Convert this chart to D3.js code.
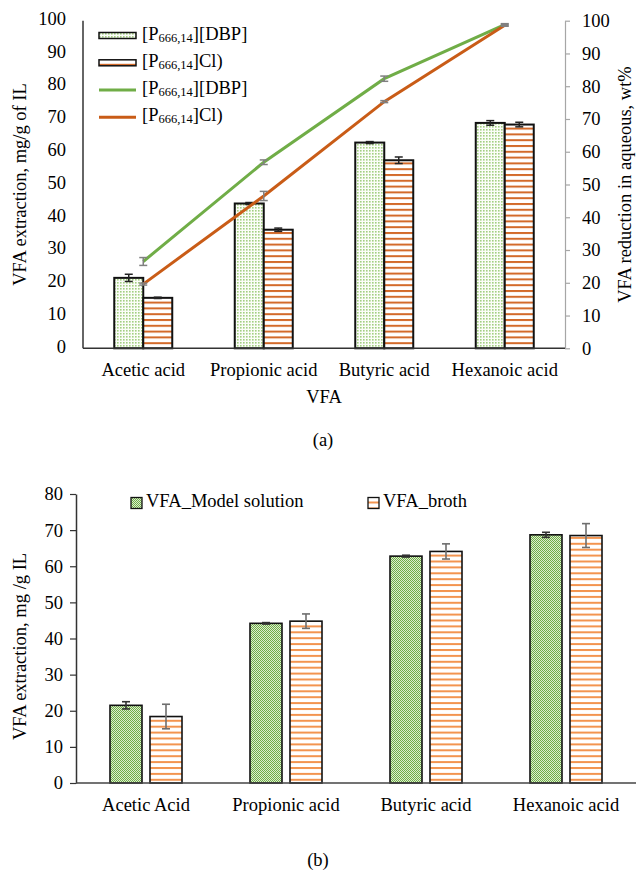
<!DOCTYPE html>
<html>
<head>
<meta charset="utf-8">
<script src="https://cdn.jsdelivr.net/npm/d3@7"></script>
<style>
  html, body { margin: 0; padding: 0; background: #fff; }
  svg { display: block; }
  text { font-family: "Liberation Serif", "Times New Roman", serif; fill: #000; }
</style>
</head>
<body>
<svg id="chart" width="638" height="876"></svg>
<script>
// ---- Panel (a): extraction (bars, left axis) and reduction (lines, right axis)
const categoriesA = ["Acetic acid", "Propionic acid", "Butyric acid", "Hexanoic acid"];
const extractionDBP = [21.5, 44.2, 62.8, 68.8];
const extractionDBPErr = [1.1, 0.3, 0.3, 0.7];
const extractionCl = [15.4, 36.2, 57.4, 68.3];
const extractionClErr = [0.2, 0.5, 1.0, 0.7];
const reductionDBP = [26.5, 56.8, 82.3, 98.8];
const reductionDBPErr = [1.2, 0.7, 0.8, 0.3];
const reductionCl = [19.6, 46.5, 75.3, 98.6];
const reductionClErr = [0.3, 1.4, 0.3, 0.3];
const ticksA = [0, 10, 20, 30, 40, 50, 60, 70, 80, 90, 100];

// ---- Panel (b): model solution vs. broth
const categoriesB = ["Acetic Acid", "Propionic acid", "Butyric acid", "Hexanoic acid"];
const modelSolution = [21.5, 44.2, 62.8, 68.7];
const modelSolutionErr = [1.0, 0.2, 0.25, 0.7];
const broth = [18.4, 44.8, 64.1, 68.5];
const brothErr = [3.4, 2.0, 2.1, 3.3];
const ticksB = [0, 10, 20, 30, 40, 50, 60, 70, 80];

const svg = d3.select("#chart");
const defs = svg.append("defs");

// fill patterns
function pattern(id, w, h, draw) {
  const p = defs.append("pattern").attr("id", id)
    .attr("patternUnits", "userSpaceOnUse").attr("width", w).attr("height", h);
  draw(p);
}
pattern("dotsGreen", 3, 3, p => {
  p.append("rect").attr("width", 3).attr("height", 3).attr("fill", "#fbfdf8");
  p.append("rect").attr("width", 1.6).attr("height", 1.6).attr("fill", "#a3cf82");
});
pattern("checkGreen", 2, 2, p => {
  p.append("rect").attr("width", 2).attr("height", 2).attr("fill", "#dcedd0");
  p.append("rect").attr("width", 1).attr("height", 1).attr("fill", "#70ad47");
  p.append("rect").attr("x", 1).attr("y", 1).attr("width", 1).attr("height", 1).attr("fill", "#70ad47");
});
pattern("stripesDark", 6, 5.8, p => {
  p.append("rect").attr("width", 6).attr("height", 5.8).attr("fill", "#ffffff");
  p.append("rect").attr("y", 0).attr("width", 6).attr("height", 2).attr("fill", "#d36a2a");
});
pattern("stripesLight", 6, 5.9, p => {
  p.append("rect").attr("width", 6).attr("height", 5.9).attr("fill", "#ffffff");
  p.append("rect").attr("y", 0).attr("width", 6).attr("height", 2).attr("fill", "#f3944f");
});

const FS = 18.5;

// text with the P666,14 subscript
function ilLabel(g, x, y, tail) {
  const t = g.append("text").attr("x", x).attr("y", y)
    .attr("font-size", FS).attr("dominant-baseline", "middle");
  t.append("tspan").text("[P");
  t.append("tspan").attr("font-size", 12.5).attr("dy", 3).attr("fill", "#000").text("666,14");
  t.append("tspan").attr("dy", -3).text(tail);
  return t;
}

function errorBar(g, x, v, e, y, cap, color, width) {
  g.append("line").attr("x1", x).attr("x2", x).attr("y1", y(v - e)).attr("y2", y(v + e))
    .attr("stroke", color).attr("stroke-width", width);
  [v - e, v + e].forEach(val => {
    g.append("line").attr("x1", x - cap / 2).attr("x2", x + cap / 2)
      .attr("y1", y(val)).attr("y2", y(val)).attr("stroke", color).attr("stroke-width", width);
  });
}

// ================= Panel (a) =================
(function panelA() {
  const left = 83, right = 565, top = 20.7, bottom = 348.3;
  const g = svg.append("g");
  const x = d3.scaleBand().domain(categoriesA).range([left, right]);
  const y = d3.scaleLinear().domain([0, 100]).range([bottom, top]);
  const y2 = d3.scaleLinear().domain([0, 100]).range([bottom, top]);
  const bw = 29;
  const cx = c => x(c) + x.bandwidth() / 2;

  // bars
  categoriesA.forEach((c, i) => {
    g.append("rect").attr("x", cx(c) - bw).attr("y", y(extractionDBP[i]))
      .attr("width", bw).attr("height", y(0) - y(extractionDBP[i]))
      .attr("fill", "url(#dotsGreen)").attr("stroke", "#111").attr("stroke-width", 2);
    g.append("rect").attr("x", cx(c)).attr("y", y(extractionCl[i]))
      .attr("width", bw).attr("height", y(0) - y(extractionCl[i]))
      .attr("fill", "url(#stripesDark)").attr("stroke", "#111").attr("stroke-width", 2);
  });
  categoriesA.forEach((c, i) => {
    errorBar(g, cx(c) - bw / 2, extractionDBP[i], extractionDBPErr[i], y, 8, "#222", 1.5);
    errorBar(g, cx(c) + bw / 2, extractionCl[i], extractionClErr[i], y, 8, "#222", 1.5);
  });

  // lines on the secondary axis
  const line = d3.line().x((d, i) => cx(categoriesA[i])).y(d => y2(d));
  g.append("path").datum(reductionDBP).attr("d", line).attr("fill", "none")
    .attr("stroke", "#70ad47").attr("stroke-width", 3);
  g.append("path").datum(reductionCl).attr("d", line).attr("fill", "none")
    .attr("stroke", "#c95c17").attr("stroke-width", 3);
  categoriesA.forEach((c, i) => {
    errorBar(g, cx(c), reductionDBP[i], reductionDBPErr[i], y2, 8, "#808080", 1.5);
    errorBar(g, cx(c), reductionCl[i], reductionClErr[i], y2, 8, "#808080", 1.5);
  });

  // left axis (no tick marks)
  g.append("line").attr("x1", left).attr("x2", left).attr("y1", top).attr("y2", bottom)
    .attr("stroke", "#333").attr("stroke-width", 1.5);
  g.selectAll(".tl").data(ticksA).enter().append("text")
    .attr("x", 66).attr("y", d => y(d)).attr("text-anchor", "end")
    .attr("dominant-baseline", "middle").attr("font-size", FS).text(d => d);

  // right axis (gray, outward ticks)
  const ra = g.append("g").attr("transform", `translate(${right},0)`)
    .call(d3.axisRight(y2).tickValues(ticksA).tickSize(5).tickSizeOuter(0));
  ra.select(".domain").attr("stroke", "#a6a6a6").attr("stroke-width", 1.2);
  ra.selectAll(".tick line").attr("stroke", "#a6a6a6").attr("stroke-width", 1.2);
  ra.selectAll(".tick text").attr("x", 17).attr("font-size", FS)
    .attr("font-family", "Liberation Serif").attr("fill", "#000");

  // baseline
  g.append("line").attr("x1", left).attr("x2", right).attr("y1", bottom).attr("y2", bottom)
    .attr("stroke", "#333").attr("stroke-width", 1.5);

  // category labels
  categoriesA.forEach(c => {
    g.append("text").attr("x", cx(c)).attr("y", 372).attr("text-anchor", "middle")
      .attr("dominant-baseline", "middle").attr("font-size", FS).text(c);
  });
  g.append("text").attr("x", 324).attr("y", 399).attr("text-anchor", "middle")
    .attr("dominant-baseline", "middle").attr("font-size", FS).text("VFA");
  g.append("text").attr("x", 323).attr("y", 442).attr("text-anchor", "middle")
    .attr("dominant-baseline", "middle").attr("font-size", FS).text("(a)");

  // axis titles
  g.append("text").attr("transform", `translate(22,${(top + bottom) / 2}) rotate(-90)`)
    .attr("text-anchor", "middle").attr("dominant-baseline", "middle")
    .attr("font-size", FS).text("VFA extraction, mg/g of IL");
  g.append("text").attr("transform", `translate(627,${(top + bottom) / 2}) rotate(-90)`)
    .attr("text-anchor", "middle").attr("dominant-baseline", "middle")
    .attr("font-size", FS).text("VFA reduction in aqueous, wt%");

  // legend
  const lx = 99, lw = 37, rows = [35.5, 62.8, 90, 117.3];
  g.append("rect").attr("x", lx).attr("y", rows[0] - 3).attr("width", lw).attr("height", 6)
    .attr("fill", "url(#dotsGreen)").attr("stroke", "#111").attr("stroke-width", 1.5);
  g.append("rect").attr("x", lx).attr("y", rows[1] - 3).attr("width", lw).attr("height", 6)
    .attr("fill", "url(#stripesDark)").attr("stroke", "#111").attr("stroke-width", 1.5);
  g.append("line").attr("x1", lx).attr("x2", lx + lw).attr("y1", rows[2]).attr("y2", rows[2])
    .attr("stroke", "#70ad47").attr("stroke-width", 3);
  g.append("line").attr("x1", lx).attr("x2", lx + lw).attr("y1", rows[3]).attr("y2", rows[3])
    .attr("stroke", "#c95c17").attr("stroke-width", 3);
  ilLabel(g, 142, rows[0], "][DBP]");
  ilLabel(g, 142, rows[1], "]Cl)");
  ilLabel(g, 142, rows[2], "][DBP]");
  ilLabel(g, 142, rows[3], "]Cl)");
})();

// ================= Panel (b) =================
(function panelB() {
  const left = 76, right = 636, top = 494, bottom = 783;
  const g = svg.append("g");
  const x = d3.scaleBand().domain(categoriesB).range([left, right]);
  const y = d3.scaleLinear().domain([0, 80]).range([bottom, top]);
  const bw = 32, off = 20;
  const cx = c => x(c) + x.bandwidth() / 2;

  categoriesB.forEach((c, i) => {
    g.append("rect").attr("x", cx(c) - off - bw / 2).attr("y", y(modelSolution[i]))
      .attr("width", bw).attr("height", y(0) - y(modelSolution[i]))
      .attr("fill", "url(#checkGreen)").attr("stroke", "#111").attr("stroke-width", 1.6);
    g.append("rect").attr("x", cx(c) + off - bw / 2).attr("y", y(broth[i]))
      .attr("width", bw).attr("height", y(0) - y(broth[i]))
      .attr("fill", "url(#stripesLight)").attr("stroke", "#111").attr("stroke-width", 1.6);
  });
  categoriesB.forEach((c, i) => {
    errorBar(g, cx(c) - off, modelSolution[i], modelSolutionErr[i], y, 8, "#333", 1.6);
    errorBar(g, cx(c) + off, broth[i], brothErr[i], y, 8, "#6e6e6e", 1.6);
  });

  // y axis with outward ticks
  const ya = g.append("g").attr("transform", `translate(${left},0)`)
    .call(d3.axisLeft(y).tickValues(ticksB).tickSize(6).tickSizeOuter(0));
  ya.select(".domain").attr("stroke", "#333").attr("stroke-width", 1.5);
  ya.selectAll(".tick line").attr("stroke", "#333").attr("stroke-width", 1.2);
  ya.selectAll(".tick text").attr("x", -13).attr("font-size", FS)
    .attr("font-family", "Liberation Serif").attr("fill", "#000");

  g.append("line").attr("x1", left).attr("x2", right).attr("y1", bottom).attr("y2", bottom)
    .attr("stroke", "#444").attr("stroke-width", 1.5);

  categoriesB.forEach(c => {
    g.append("text").attr("x", cx(c)).attr("y", 807).attr("text-anchor", "middle")
      .attr("dominant-baseline", "middle").attr("font-size", FS).text(c);
  });
  g.append("text").attr("x", 318).attr("y", 862).attr("text-anchor", "middle")
    .attr("dominant-baseline", "middle").attr("font-size", FS).text("(b)");

  g.append("text").attr("transform", `translate(22,${(top + bottom) / 2 + 8}) rotate(-90)`)
    .attr("text-anchor", "middle").attr("dominant-baseline", "middle")
    .attr("font-size", FS).text("VFA extraction, mg /g IL");

  // legend
  const ly = 503;
  g.append("rect").attr("x", 131).attr("y", ly - 5.5).attr("width", 11).attr("height", 11)
    .attr("fill", "url(#checkGreen)").attr("stroke", "#111").attr("stroke-width", 1.3);
  g.append("text").attr("x", 146).attr("y", ly).attr("dominant-baseline", "middle")
    .attr("font-size", FS).text("VFA_Model solution");
  g.append("rect").attr("x", 368).attr("y", ly - 5.5).attr("width", 11).attr("height", 11)
    .attr("fill", "url(#stripesLight)").attr("stroke", "#111").attr("stroke-width", 1.3);
  g.append("text").attr("x", 383).attr("y", ly).attr("dominant-baseline", "middle")
    .attr("font-size", FS).text("VFA_broth");
})();
</script>
</body>
</html>
